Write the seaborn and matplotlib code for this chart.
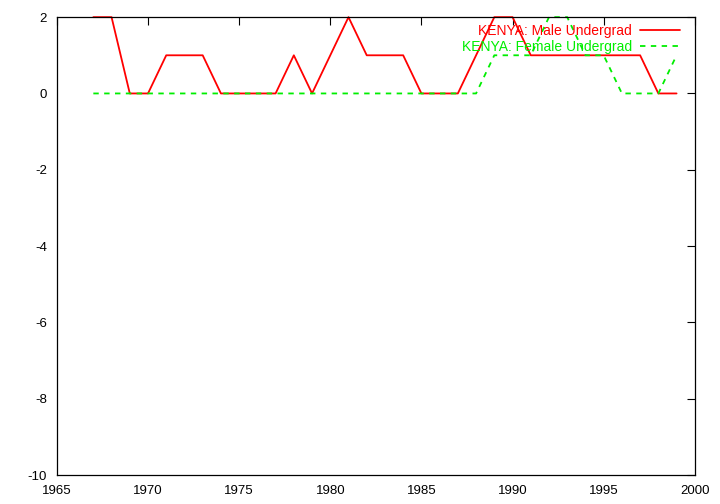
import pandas as pd
import seaborn as sns
import matplotlib
matplotlib.use('Agg')
import matplotlib.pyplot as plt

years = list(range(1967, 2000))
male = [2, 2, 0, 0, 1, 1, 1, 0, 0, 0, 0, 1, 0, 1, 2, 1, 1, 1, 0, 0, 0, 1, 2, 2, 1, 1, 1, 1, 1, 1, 1, 0, 0]
female = [0, 0, 0, 0, 0, 0, 0, 0, 0, 0, 0, 0, 0, 0, 0, 0, 0, 0, 0, 0, 0, 0, 1, 1, 1, 2, 2, 1, 1, 0, 0, 0, 1]

frame = pd.DataFrame({'year': years, 'male': male, 'female': female})

sns.set_style('white')
plt.rcParams['font.family'] = ['Liberation Sans', 'DejaVu Sans']
plt.rcParams['axes.unicode_minus'] = False

fig = plt.figure(figsize=(7.2, 5.04), dpi=100)
ax = fig.add_axes([0.079, 0.0575, 0.886, 0.9085])

sns.lineplot(data=frame, x='year', y='male', color='#ff0000', linewidth=1.3,
             label='KENYA: Male Undergrad', ax=ax)
sns.lineplot(data=frame, x='year', y='female', color='#00ee00', linewidth=1.3,
             linestyle=(0, (3, 3)), label='KENYA: Female Undergrad', ax=ax)
for ln in ax.lines:
    ln.set_clip_on(False)

ax.set_xlim(1965, 2000)
ax.set_ylim(-10, 2)
ax.set_xticks(range(1965, 2001, 5))
ax.set_yticks(range(-10, 3, 2))
ax.set_xlabel('')
ax.set_ylabel('')
ax.tick_params(direction='in', length=6, width=0.8, top=True, right=True,
               labelsize=9.5, colors='black')
ax.tick_params(axis='x', pad=7)
ax.tick_params(axis='y', pad=7)
for s in ax.spines.values():
    s.set_color('black')
    s.set_linewidth(0.9)

leg = ax.legend(loc='upper right', bbox_to_anchor=(0.986, 0.997), frameon=False,
                markerfirst=False, labelcolor='linecolor', fontsize=10,
                handlelength=2.9, borderaxespad=0.0, labelspacing=0.12,
                handletextpad=0.6)
for t in leg.get_texts():
    t.set_ha('right')
leg._legend_box.align = 'right'

fig.savefig('out.png', dpi=100)
